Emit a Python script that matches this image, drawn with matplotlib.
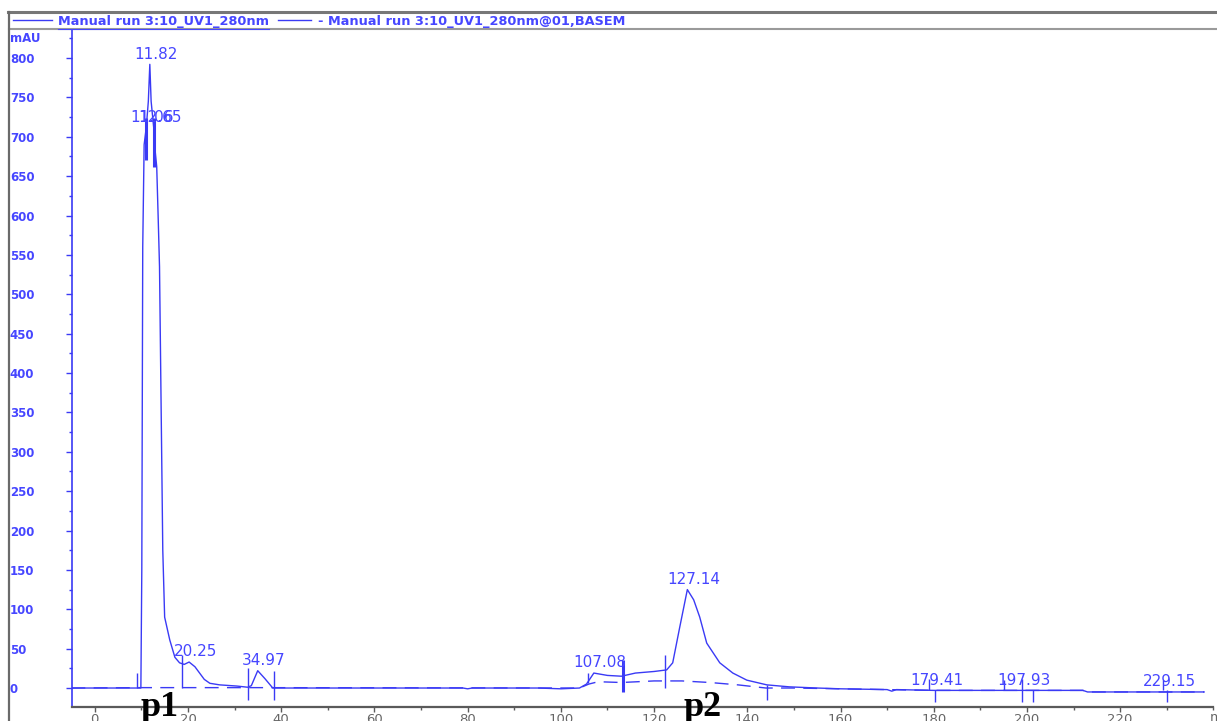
import numpy as np
import matplotlib
matplotlib.use("Agg")
import matplotlib.pyplot as plt
from matplotlib.lines import Line2D
from matplotlib.ticker import MultipleLocator

# UV 280 nm trace (time in min, absorbance in mAU)
time_min = [-5, 9.9, 10.1, 10.3, 10.6, 11.06, 11.5, 11.82, 12.1, 12.65, 13.0, 13.3,
            13.6, 13.9, 14.2, 14.6, 15.0, 16.1, 17.2, 18.2, 19.2, 20.25, 21.5, 22.5,
            23.5, 24.7, 26.8, 30.5, 32.8, 33.6, 34.97, 36.5, 38.2, 79.0, 80.0, 81.0,
            95.0, 100.0, 104.0, 105.5, 107.08, 110.0, 113.0, 116.0, 120.0, 122.7,
            124.0, 125.5, 127.14, 128.5, 129.8, 131.3, 134.1, 136.9, 139.9, 144.2,
            149.0, 155.0, 160.0, 170.0, 171.0, 172.0, 180.0, 212.0, 213.0, 238.0]
uv_mau = [0, 0, 150, 560, 690, 712, 745, 792, 745, 712, 680, 662,
          600, 535, 380, 175, 90, 61, 39, 32, 30, 33, 27, 19,
          11, 6, 4, 2.5, 1, 3, 22, 12, 0, 0, -1, 0,
          0, -1, 0, 5, 19, 16, 15, 19, 21, 23,
          32, 77, 125, 112, 90, 57, 32, 19, 10, 4,
          1.5, 0, -1, -2, -4, -2, -3, -3, -5, -5]

# Integration baseline (BASEM)
base_time = [-5, 10.2, 33.0, 104.0, 106.0, 108.0, 113.0, 120.0, 126.0, 132.0,
             138.0, 144.0, 150.0, 160.0, 180.0, 212.0, 213.0, 238.0]
base_mau = [0, 0.5, 0.5, 0, 5, 8, 7, 9, 9, 7,
            4, 0, 0, -1, -3, -3, -5, -5]

# Peak retention times shown on the trace
peak_times = [11.82, 11.06, 12.65, 20.25, 34.97, 107.08, 127.14, 179.41, 197.93, 229.15]
peak_labels = ["11.82", "11.06", "12.65", "20.25", "34.97", "107.08", "127.14",
               "179.41", "197.93", "229.15"]

# Peak / fraction markers: time, lower and upper mAU
marker_times = [9.0, 11.06, 12.65, 18.7, 32.8, 38.4, 105.8, 113.4, 122.3, 144.2,
                179.0, 180.3, 195.0, 199.0, 201.3, 229.2, 230.0]
marker_low = [0, 670, 662, 0, -15, -15, 6, -5, 0, -15, -3, -18, -3, -18, -18, -3, -18]
marker_high = [19, 724, 724, 42, 25, 22, 19, 35, 42, 4, 12, -3, 10, 12, -3, 10, -3]
marker_bold = [False, True, True, False, False, False, False, True, False, False,
               False, False, False, False, False, False, False]

# Fraction pool names
pool_names = ["p1", "p2"]
pool_times = [13.9, 130.5]

y_ticks = list(range(0, 801, 50))
x_ticks = list(range(0, 221, 20))

BLUE = "#3a3af5"
TXT_BLUE = "#4646ff"
GREY = "#5a5a5a"

W, H = 1217, 721
fig = plt.figure(figsize=(W / 100, H / 100), dpi=100)
fig.patch.set_facecolor("white")

ax = fig.add_axes([71.7 / W, 14 / H, 1141.7 / W, 677 / H])
ax.set_xlim(-4.94, 240)
ax.set_ylim(-24.1, 835.6)
ax.set_facecolor("white")

ax.plot(time_min, uv_mau, color=BLUE, lw=1.0, solid_joinstyle="round", zorder=3)
ax.plot(base_time, base_mau, color=BLUE, lw=1.0, dashes=(10, 6), zorder=2)

for t, lo, hi, bold in zip(marker_times, marker_low, marker_high, marker_bold):
    ax.plot([t, t], [lo, hi], color=BLUE, lw=2.2 if bold else 1.0,
            solid_capstyle="butt", zorder=4, clip_on=False)

for t, lab in zip(peak_times, peak_labels):
    yv = np.interp(t, time_min, uv_mau)
    ax.annotate(lab, xy=(t, yv), xytext=(4.5, 2), textcoords="offset points",
                ha="center", va="bottom", color=TXT_BLUE, fontsize=11,
                family="DejaVu Sans", zorder=5)

for name, t in zip(pool_names, pool_times):
    ax.text(t, -0.0133, name, transform=ax.get_xaxis_transform(), ha="center",
            va="baseline", fontsize=26, fontweight="bold", family="Liberation Serif",
            color="black", clip_on=False, zorder=6)

# axes styling
for side in ("top", "right"):
    ax.spines[side].set_visible(False)
ax.spines["left"].set_color(BLUE)
ax.spines["left"].set_linewidth(1.2)
ax.spines["bottom"].set_color(GREY)
ax.spines["bottom"].set_linewidth(1.6)

ax.set_yticks(y_ticks)
ax.set_yticklabels([str(v) for v in y_ticks])
ax.yaxis.set_minor_locator(MultipleLocator(25))
ax.tick_params(axis="y", which="major", direction="out", length=4, width=1,
               color=BLUE, labelcolor=TXT_BLUE, labelsize=8.5, pad=40.5)
ax.tick_params(axis="y", which="minor", direction="out", length=2.2, width=1, color=BLUE)
for lbl in ax.get_yticklabels():
    lbl.set_horizontalalignment("left")
    lbl.set_fontweight("bold")

ax.set_xticks(x_ticks)
ax.set_xticklabels([str(v) for v in x_ticks])
ax.xaxis.set_minor_locator(MultipleLocator(10))
ax.tick_params(axis="x", which="major", direction="out", length=3.5, width=1,
               color=GREY, labelcolor="#666666", labelsize=9.5, pad=0.5)
ax.tick_params(axis="x", which="minor", direction="out", length=2, width=1, color=GREY)

ax.text(239.2, -0.006, "min", transform=ax.get_xaxis_transform(), ha="left", va="top",
        color="#666666", fontsize=9.5, clip_on=False)

# header band with legend
def fx(px):
    return px / W

def fy(py):
    return 1 - py / H

fig.add_artist(Line2D([fx(8), 1], [fy(12), fy(12)], color="#777777", lw=2.2))
fig.add_artist(Line2D([fx(9), 1], [fy(29), fy(29)], color="#9a9a9a", lw=1.5))
fig.add_artist(Line2D([fx(9), fx(9)], [fy(12), 0], color="#6a6a6a", lw=1.6))

fig.add_artist(Line2D([fx(13), fx(52)], [fy(20), fy(20)], color=BLUE, lw=1.0))
t1 = fig.text(fx(58), fy(21), "Manual run 3:10_UV1_280nm", color=TXT_BLUE,
              fontsize=9.3, ha="left", va="center", fontweight="bold")
fig.add_artist(Line2D([fx(278), fx(311)], [fy(20), fy(20)], color=BLUE, lw=1.0))
fig.text(fx(318), fy(21), "- Manual run 3:10_UV1_280nm@01,BASEM", color=TXT_BLUE,
         fontsize=9.3, ha="left", va="center", fontweight="bold")
fig.text(fx(10), fy(38), "mAU", color=TXT_BLUE, fontsize=8.5, ha="left", va="center",
         fontweight="bold")

fig.canvas.draw()
bb = t1.get_window_extent()
fig.add_artist(Line2D([bb.x0 / W, bb.x1 / W], [(bb.y0 - 1) / H, (bb.y0 - 1) / H],
                      color=TXT_BLUE, lw=0.8))

fig.savefig("out.png", dpi=100)
